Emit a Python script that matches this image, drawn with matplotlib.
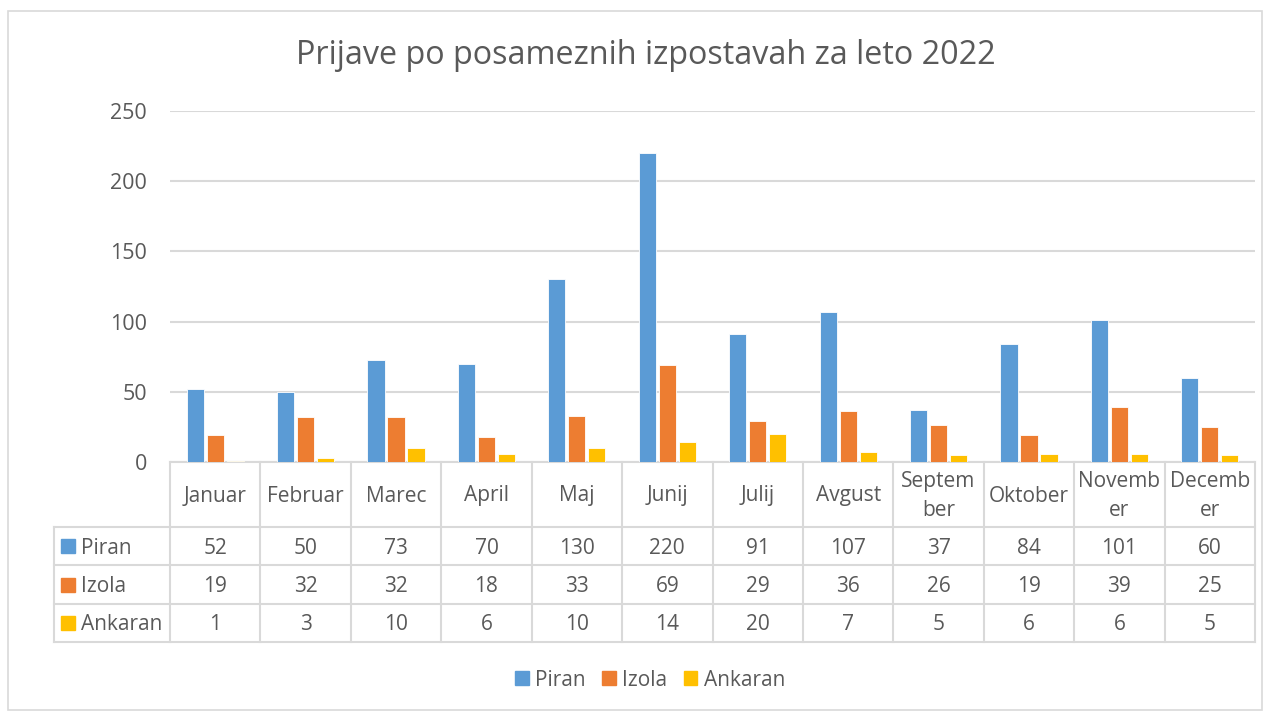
import matplotlib.pyplot as plt
import numpy as np
from matplotlib.lines import Line2D
from matplotlib.patches import Rectangle

plt.rcParams['font.family'] = ['Open Sans', 'DejaVu Sans']

# data
months = ["Januar", "Februar", "Marec", "April", "Maj", "Junij", "Julij",
          "Avgust", "September", "Oktober", "November", "December"]
month_labels = ["Januar", "Februar", "Marec", "April", "Maj", "Junij", "Julij",
                "Avgust", "Septem\nber", "Oktober", "Novemb\ner", "Decemb\ner"]
series = ["Piran", "Izola", "Ankaran"]
piran = [52, 50, 73, 70, 130, 220, 91, 107, 37, 84, 101, 60]
izola = [19, 32, 32, 18, 33, 69, 29, 36, 26, 19, 39, 25]
ankaran = [1, 3, 10, 6, 10, 14, 20, 7, 5, 6, 6, 5]
colors = ["#5B9BD5", "#ED7D31", "#FFC000"]

W, H = 1272, 711
txt = "#595959"
grid = "#D9D9D9"
fs = 15

fig = plt.figure(figsize=(W / 100, H / 100), dpi=100)

def fx(x):
    return x / W

def fy(y):
    return 1 - y / H

# outer chart border
fig.add_artist(Rectangle((fx(8), fy(710)), fx(1262) - fx(8), fy(11) - fy(710),
                         transform=fig.transFigure, fill=False, edgecolor=grid, lw=1.2))

# plot area
x0, x1, ytop, ybot = 170, 1255, 111, 462
ax = fig.add_axes([fx(x0), fy(ybot), fx(x1) - fx(x0), fy(ytop) - fy(ybot)])
x = np.arange(len(months))
step = 0.221
for i, (vals, c) in enumerate(zip([piran, izola, ankaran], colors)):
    ax.bar(x + (i - 1) * step, vals, width=0.19, color=c, edgecolor="white",
           linewidth=0.6, zorder=3)
ax.set_xlim(-0.5, len(months) - 0.5)
ax.set_ylim(0, 250)
ax.set_yticks(range(0, 251, 50))
ax.yaxis.grid(True, color=grid, lw=1.5, zorder=0)
ax.set_xticks([])
for s in ["top", "right", "left"]:
    ax.spines[s].set_visible(False)
ax.spines["bottom"].set_color(grid)
ax.spines["bottom"].set_linewidth(1.5)
ax.tick_params(axis="y", length=0, pad=16.5, labelsize=15.5, labelcolor=txt)

fig.text(fx(646), fy(56), "Prijave po posameznih izpostavah za leto 2022",
         ha="center", va="center", fontsize=23.3, color=txt)

# data table
colw = (x1 - x0) / len(months)
rows_y = [527, 565, 604, 642]
left = 54
kw = dict(transform=fig.transFigure, color=grid, lw=1.5)
for yy in rows_y:
    fig.add_artist(Line2D([fx(left), fx(x1)], [fy(yy), fy(yy)], **kw))
for j in range(len(months) + 1):
    xx = x0 + j * colw
    fig.add_artist(Line2D([fx(xx), fx(xx)], [fy(ybot), fy(rows_y[-1])], **kw))
fig.add_artist(Line2D([fx(left), fx(left)], [fy(rows_y[0]), fy(rows_y[-1])], **kw))

for j, lab in enumerate(month_labels):
    fig.text(fx(x0 + (j + 0.5) * colw), fy(496), lab, ha="center", va="center",
             fontsize=fs, color=txt, linespacing=1.45)

for r, (name, vals, c) in enumerate(zip(series, [piran, izola, ankaran], colors)):
    yc = (rows_y[r] + rows_y[r + 1]) / 2
    fig.add_artist(Rectangle((fx(61), fy(yc + 7)), fx(14), fy(0) - fy(14),
                             transform=fig.transFigure, color=c))
    fig.text(fx(81), fy(yc + 2), name, ha="left", va="center", fontsize=fs, color=txt)
    for j, v in enumerate(vals):
        fig.text(fx(x0 + (j + 0.5) * colw), fy(yc + 2), str(v), ha="center",
                 va="center", fontsize=fs, color=txt)

# bottom legend
handles = [Rectangle((0, 0), 1, 1, color=c) for c in colors]
fig.legend(handles, series, loc="center", bbox_to_anchor=(fx(650), fy(680)),
           ncol=3, frameon=False, fontsize=fs, labelcolor=txt,
           handlelength=0.65, handleheight=0.65, handletextpad=0.3,
           columnspacing=0.8)

fig.savefig("out.png", dpi=100)
